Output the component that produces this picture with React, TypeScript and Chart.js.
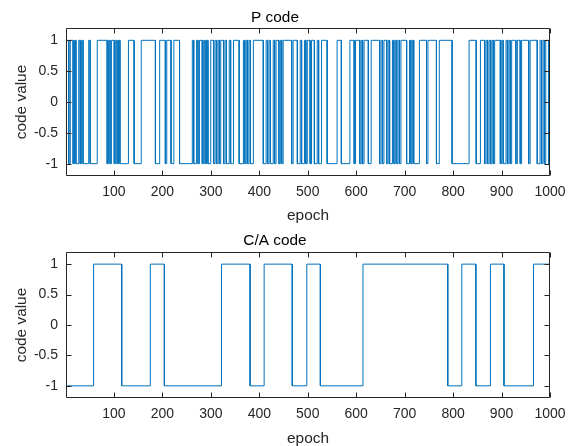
import React, { useEffect, useRef } from "react";
import { Chart, registerables } from "chart.js";

Chart.register(...registerables);

// P code: run lengths in chips, alternating +1 / -1 starting with +1
const pCodeRuns = [
  2, 1, 2, 1, 1, 2, 1, 1, 1, 4, 1, 5, 7, 1, 1, 1, 2, 1, 1, 1, 1, 6, 4, 5, 10,
  3, 4, 1, 3, 2, 4, 9, 1, 2, 1, 1, 2, 1, 1, 1, 1, 2, 2, 1, 1, 1, 1, 1, 2, 1, 1,
  2, 1, 2, 4, 3, 1, 1, 1, 1, 1, 2, 7, 2, 1, 1, 1, 2, 1, 1, 2, 1, 1, 1, 6, 1, 3,
  2, 1, 2, 1, 1, 2, 1, 2, 2, 1, 2, 4, 7, 3, 6, 3, 1, 3, 1, 1, 1, 3, 2, 6, 1, 1,
  1, 2, 1, 1, 2, 1, 1, 1, 1, 1, 1, 4, 2, 1, 1, 1, 4, 5, 1, 6, 2, 9, 12, 5, 3, 3,
  1, 1, 1, 1, 1, 1, 1, 4, 1, 1, 2, 1, 1, 1, 1, 3, 1, 2, 1, 5, 1, 5, 2, 1, 1, 1,
  1, 2, 1,
];
const pCodeStartValue = 1;

// C/A code: epochs where the code flips, starting at -1
const caTransitions = [58, 116, 175, 204, 322, 381, 410, 468, 498, 526, 614, 789, 818, 847, 877, 905, 966];
const caStartValue = -1;

const epochMin = 1;
const epochMax = 1000;
const xTickValues = [100, 200, 300, 400, 500, 600, 700, 800, 900, 1000];
const yTickValues = [-1, -0.5, 0, 0.5, 1];

const titles = ["P code", "C/A code"];
const xLabel = "epoch";
const yLabel = "code value";

function pCodePoints() {
  const total = pCodeRuns.reduce((a, b) => a + b, 0);
  const chip = (epochMax - epochMin) / total;
  const pts: { x: number; y: number }[] = [];
  let v = pCodeStartValue;
  let c = 0;
  for (const r of pCodeRuns) {
    pts.push({ x: epochMin + c * chip, y: v });
    c += r;
    pts.push({ x: epochMin + c * chip, y: v });
    v = -v;
  }
  return pts;
}

function caPoints() {
  const pts: { x: number; y: number }[] = [];
  let v = caStartValue;
  let start = epochMin;
  for (const t of [...caTransitions, epochMax]) {
    pts.push({ x: start, y: v });
    pts.push({ x: t, y: v });
    start = t;
    v = -v;
  }
  return pts;
}

const FONT = "'Liberation Sans', Arial, Helvetica, sans-serif";
const AXIS = "#262626";

const boxPlugin = {
  id: "matlabBox",
  afterDraw(chart: any) {
    const { ctx, chartArea } = chart;
    const xs = chart.scales.x;
    const ys = chart.scales.y;
    const l = Math.round(chartArea.left) + 0.5;
    const r = Math.round(chartArea.right) - 0.5;
    const t = Math.round(chartArea.top) + 0.5;
    const b = Math.round(chartArea.bottom) - 0.5;
    ctx.save();
    ctx.strokeStyle = AXIS;
    ctx.lineWidth = 1;
    ctx.beginPath();
    ctx.rect(l, t, r - l, b - t);
    const tl = 5;
    for (const v of xTickValues) {
      const px = Math.round(xs.getPixelForValue(v)) + 0.5;
      ctx.moveTo(px, b);
      ctx.lineTo(px, b - tl);
      ctx.moveTo(px, t);
      ctx.lineTo(px, t + tl);
    }
    for (const v of yTickValues) {
      const py = Math.round(ys.getPixelForValue(v)) + 0.5;
      ctx.moveTo(l, py);
      ctx.lineTo(l + tl, py);
      ctx.moveTo(r, py);
      ctx.lineTo(r - tl, py);
    }
    ctx.stroke();
    ctx.restore();
  },
};

function SubPlot({ idx }: { idx: number }) {
  const ref = useRef<HTMLCanvasElement | null>(null);
  useEffect(() => {
    if (!ref.current) return;
    const data = idx === 0 ? pCodePoints() : caPoints();
    const chart = new Chart(ref.current, {
      type: "line",
      data: {
        datasets: [
          {
            data,
            borderColor: "#0072BD",
            borderWidth: 1,
            pointRadius: 0,
            fill: false,
            tension: 0,
          },
        ],
      },
      options: {
        animation: false,
        responsive: false,
        devicePixelRatio: 1,
        parsing: false,
        normalized: true,
        layout: { padding: { left: 0, right: 21, top: 0, bottom: 0 } },
        plugins: {
          legend: { display: false },
          tooltip: { enabled: false },
          title: {
            display: true,
            text: titles[idx],
            color: "#000",
            font: { family: FONT, size: 15.4, weight: "normal" },
            padding: idx === 0 ? { top: 8.5, bottom: 1 } : { top: 9, bottom: 1.5 },
          },
        },
        scales: {
          x: {
            type: "linear",
            min: epochMin,
            max: epochMax,
            grid: { display: false, drawTicks: false },
            border: { display: false },
            afterBuildTicks: (s: any) => {
              s.ticks = xTickValues.map((v) => ({ value: v }));
            },
            afterFit: (s: any) => {
              s.height = idx === 0 ? 47 : 48;
              s.paddingLeft = 0;
              s.paddingRight = 0;
            },
            ticks: {
              color: AXIS,
              font: { family: FONT, size: 14 },
              padding: 8,
              maxRotation: 0,
              autoSkip: false,
              callback: (v: any) => String(v),
            },
            title: {
              display: true,
              text: xLabel,
              color: AXIS,
              font: { family: FONT, size: 15.4, lineHeight: 1.0 },
              padding: { top: 0, bottom: 0 },
            },
          },
          y: {
            type: "linear",
            min: -1.2,
            max: 1.2,
            grid: { display: false, drawTicks: false },
            border: { display: false },
            afterBuildTicks: (s: any) => {
              s.ticks = yTickValues.map((v) => ({ value: v }));
            },
            afterFit: (s: any) => {
              s.width = 66;
              s.paddingTop = 0;
              s.paddingBottom = 0;
            },
            ticks: {
              color: AXIS,
              font: { family: FONT, size: 14 },
              padding: 8,
              callback: (v: any) => String(v),
            },
            title: {
              display: true,
              text: yLabel,
              color: AXIS,
              font: { family: FONT, size: 15.4 },
              padding: { top: 12.5, bottom: 0 },
            },
          },
        },
      },
      plugins: [boxPlugin],
    });
    return () => chart.destroy();
  }, [idx]);
  return <canvas ref={ref} width={571} height={223} style={{ display: "block", width: 571, height: 223 }} />;
}

export default function App() {
  return (
    <div
      style={{
        position: "fixed",
        left: 0,
        top: 0,
        width: 571,
        height: 446,
        background: "#fff",
        overflow: "hidden",
      }}
    >
      <SubPlot idx={0} />
      <SubPlot idx={1} />
    </div>
  );
}
